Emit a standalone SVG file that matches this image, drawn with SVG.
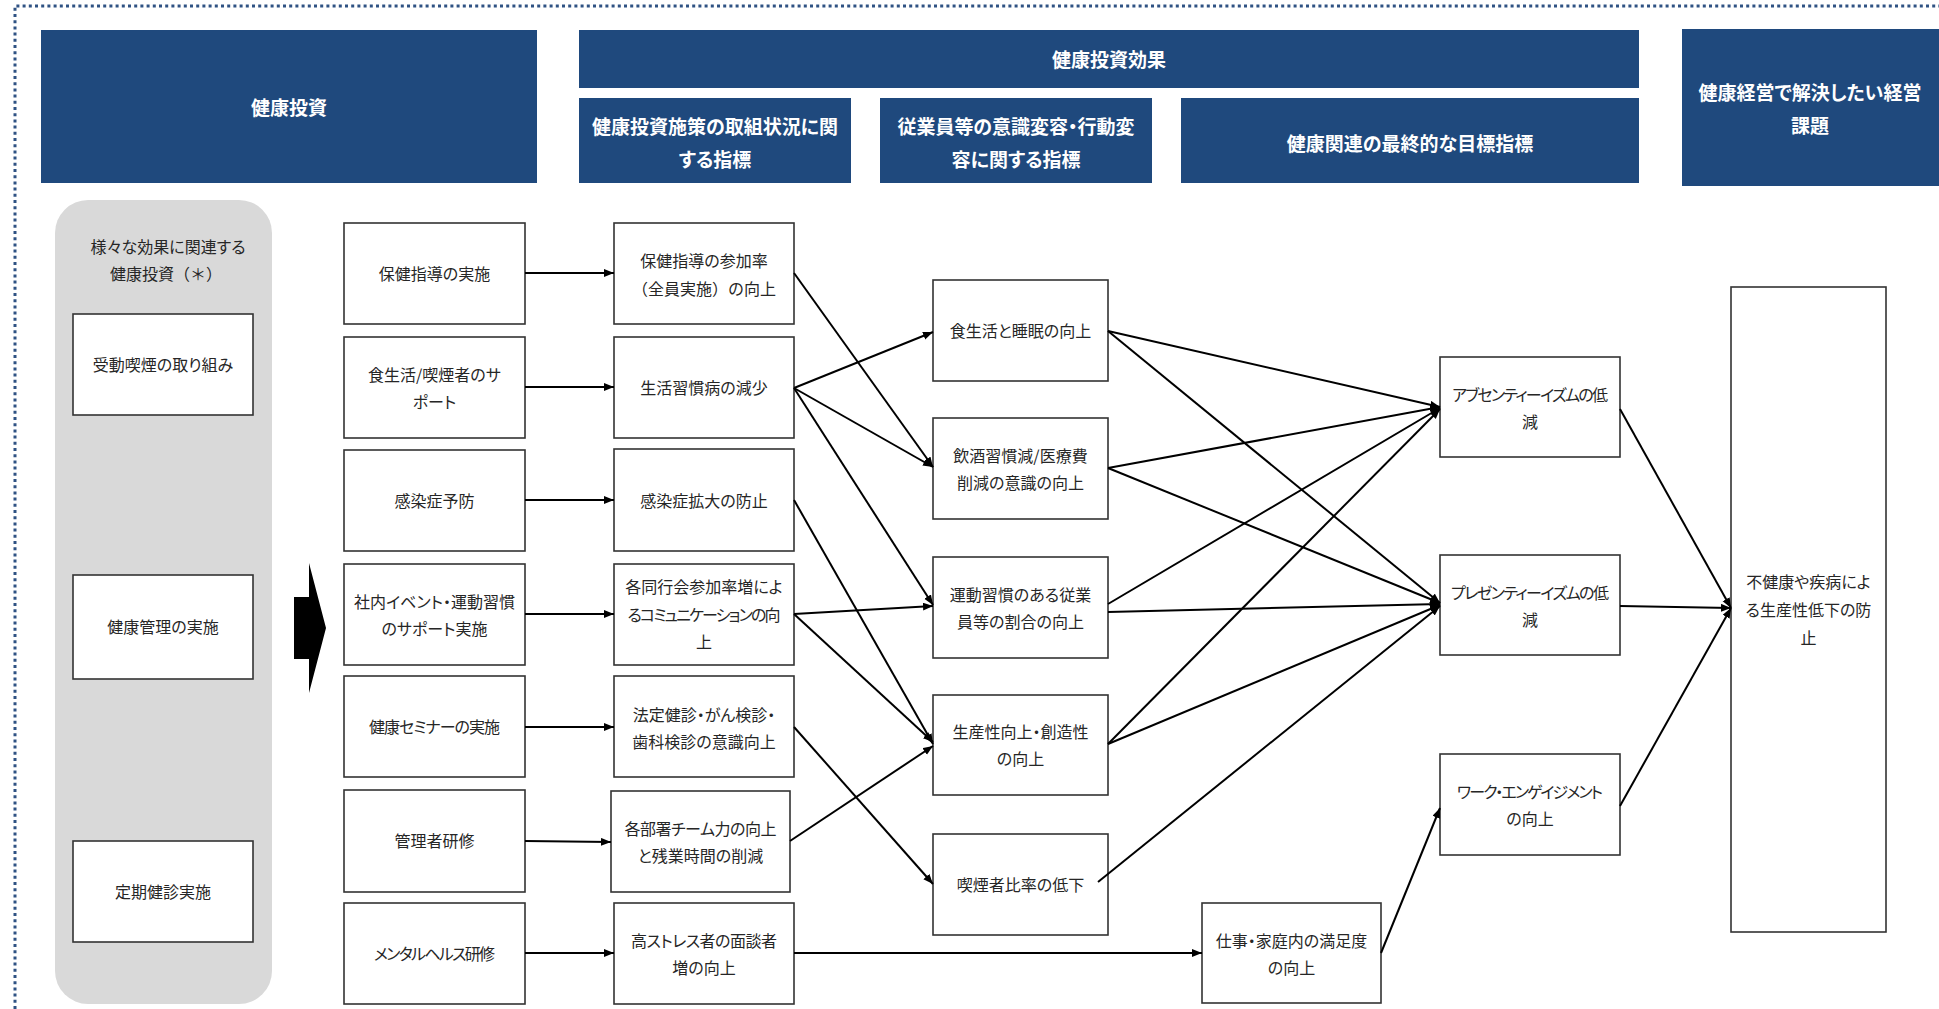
<svg xmlns="http://www.w3.org/2000/svg" width="1939" height="1009" viewBox="0 0 1939 1009">
<style>
text{font-family:"Noto Sans CJK JP","Noto Sans",sans-serif;font-feature-settings:"palt" 1;text-anchor:middle;dominant-baseline:central}
.hdr{fill:#1f497d}
.ht{fill:#ffffff;font-size:19px;font-weight:bold}
.box{fill:#ffffff;stroke:#333333;stroke-width:1.6}
.t{fill:#262626;font-size:16px}
.fw{font-feature-settings:"palt" 0}
.cn line{stroke:#000000;stroke-width:2;fill:none;marker-end:url(#ah)}
</style>
<defs>
<marker id="ah" markerUnits="userSpaceOnUse" markerWidth="11" markerHeight="9" refX="10" refY="4" orient="auto">
<path d="M0,0 L10,4 L0,8 z" fill="#000000"/>
</marker>
</defs>
<rect width="1939" height="1009" fill="#ffffff"/>
<path d="M15,1009 L15,6 L1939,6" fill="none" stroke="#2f5283" stroke-width="3" stroke-dasharray="3 3.2"/>

<g id="h-invest"><rect class="hdr" x="41" y="30" width="496" height="153"/><text class="ht" x="289" y="106.5">健康投資</text></g>
<g id="h-effect"><rect class="hdr" x="579" y="30" width="1060" height="58"/><text class="ht" x="1109" y="58.5">健康投資効果</text></g>
<g id="h-measure"><rect class="hdr" x="579" y="98" width="272" height="85"/><text class="ht"><tspan x="715" y="124.5">健康投資施策の取組状況に関</tspan><tspan x="715" y="157.5">する指標</tspan></text></g>
<g id="h-aware"><rect class="hdr" x="880" y="98" width="272" height="85"/><text class="ht"><tspan x="1016" y="124.5">従業員等の意識変容・行動変</tspan><tspan x="1016" y="157.5">容に関する指標</tspan></text></g>
<g id="h-goal"><rect class="hdr" x="1181" y="98" width="458" height="85"/><text class="ht" x="1410" y="142.5">健康関連の最終的な目標指標</text></g>
<g id="h-issue"><rect class="hdr" x="1682" y="29" width="257" height="157"/><text class="ht"><tspan x="1810" y="91">健康経営で解決したい経営</tspan><tspan x="1810" y="124">課題</tspan></text></g>

<g id="panel">
<rect x="55" y="200" width="217" height="804" rx="33" fill="#d9d9d9"/>
<text class="t" x="168" y="245.5">様々な効果に関連する</text>
<text class="t fw" x="166" y="272.5">健康投資（＊）</text>
</g>
<g id="p-smoke"><rect class="box" x="73" y="314" width="180" height="101"/><text class="t" x="163" y="363.5">受動喫煙の取り組み</text></g>
<g id="p-manage"><rect class="box" x="73" y="575" width="180" height="104"/><text class="t" x="163" y="625.5">健康管理の実施</text></g>
<g id="p-check"><rect class="box" x="73" y="841" width="180" height="101"/><text class="t" x="163" y="890.5">定期健診実施</text></g>

<g id="big-arrow"><polygon points="294,597 309,597 309,563 326,628 309,693 309,659 294,659" fill="#000000"/></g>

<g id="a1"><rect class="box" x="344" y="223" width="181" height="101"/><text class="t" x="434.5" y="272.5">保健指導の実施</text></g>
<g id="a2"><rect class="box" x="344" y="337" width="181" height="101"/><text class="t"><tspan x="434.5" y="373.5">食生活/喫煙者のサ</tspan><tspan x="434.5" y="400.5">ポート</tspan></text></g>
<g id="a3"><rect class="box" x="344" y="450" width="181" height="101"/><text class="t" x="434.5" y="499.5">感染症予防</text></g>
<g id="a4"><rect class="box" x="344" y="564" width="181" height="101"/><text class="t"><tspan x="434.5" y="600.5">社内イベント・運動習慣</tspan><tspan x="434.5" y="627.5">のサポート実施</tspan></text></g>
<g id="a5"><rect class="box" x="344" y="676" width="181" height="101"/><text class="t" x="434.5" y="725.5" textLength="131" lengthAdjust="spacing">健康セミナーの実施</text></g>
<g id="a6"><rect class="box" x="344" y="790" width="181" height="102"/><text class="t" x="434.5" y="839.5">管理者研修</text></g>
<g id="a7"><rect class="box" x="344" y="903" width="181" height="101"/><text class="t" x="434.5" y="952.5" textLength="121" lengthAdjust="spacing">メンタルヘルス研修</text></g>

<g id="b1"><rect class="box" x="614" y="223" width="180" height="101"/><text class="t" x="704" y="259.5">保健指導の参加率</text><text class="t fw" x="704" y="287.5">（全員実施）の向上</text></g>
<g id="b2"><rect class="box" x="614" y="337" width="180" height="101"/><text class="t" x="704" y="386.5">生活習慣病の減少</text></g>
<g id="b3"><rect class="box" x="614" y="449" width="180" height="102"/><text class="t" x="704" y="499.5">感染症拡大の防止</text></g>
<g id="b4"><rect class="box" x="614" y="564" width="180" height="101"/><text class="t" x="704" y="585.5">各同行会参加率増によ</text><text class="t" x="704" y="613.5" textLength="153" lengthAdjust="spacing">るコミュニケーションの向</text><text class="t" x="704" y="640.5">上</text></g>
<g id="b5"><rect class="box" x="614" y="676" width="180" height="101"/><text class="t"><tspan x="704" y="713.5">法定健診・がん検診・</tspan><tspan x="704" y="740.5">歯科検診の意識向上</tspan></text></g>
<g id="b6"><rect class="box" x="611" y="791" width="179" height="101"/><text class="t" x="700.5" y="827.5" textLength="152" lengthAdjust="spacing">各部署チーム力の向上</text><text class="t" x="700.5" y="854.5">と残業時間の削減</text></g>
<g id="b7"><rect class="box" x="614" y="903" width="180" height="101"/><text class="t" x="704" y="939.5" textLength="146" lengthAdjust="spacing">高ストレス者の面談者</text><text class="t" x="704" y="966.5">増の向上</text></g>

<g id="c1"><rect class="box" x="933" y="280" width="175" height="101"/><text class="t" x="1020.5" y="329.5">食生活と睡眠の向上</text></g>
<g id="c2"><rect class="box" x="933" y="418" width="175" height="101"/><text class="t"><tspan x="1020.5" y="454.5">飲酒習慣減/医療費</tspan><tspan x="1020.5" y="481.5">削減の意識の向上</tspan></text></g>
<g id="c3"><rect class="box" x="933" y="557" width="175" height="101"/><text class="t"><tspan x="1020.5" y="593.5">運動習慣のある従業</tspan><tspan x="1020.5" y="620.5">員等の割合の向上</tspan></text></g>
<g id="c4"><rect class="box" x="933" y="695" width="175" height="100"/><text class="t"><tspan x="1020.5" y="730.5">生産性向上・創造性</tspan><tspan x="1020.5" y="757.5">の向上</tspan></text></g>
<g id="c5"><rect class="box" x="933" y="834" width="175" height="101"/><text class="t" x="1020.5" y="883.5">喫煙者比率の低下</text></g>
<g id="c6"><rect class="box" x="1202" y="903" width="179" height="100"/><text class="t"><tspan x="1291.5" y="939.5">仕事・家庭内の満足度</tspan><tspan x="1291.5" y="966.5">の向上</tspan></text></g>

<g id="d1"><rect class="box" x="1440" y="357" width="180" height="100"/><text class="t" x="1530" y="393.5" textLength="156" lengthAdjust="spacing">アブセンティーイズムの低</text><text class="t" x="1530" y="420.5">減</text></g>
<g id="d2"><rect class="box" x="1440" y="555" width="180" height="100"/><text class="t" x="1530" y="591.5" textLength="158" lengthAdjust="spacing">プレゼンティーイズムの低</text><text class="t" x="1530" y="618.5">減</text></g>
<g id="d3"><rect class="box" x="1440" y="754" width="180" height="101"/><text class="t" x="1530" y="790.5" textLength="146" lengthAdjust="spacing">ワーク・エンゲイジメント</text><text class="t" x="1530" y="817.5">の向上</text></g>

<g id="e1"><rect class="box" x="1731" y="287" width="155" height="645"/><text class="t"><tspan x="1808.5" y="581">不健康や疾病によ</tspan><tspan x="1808.5" y="609">る生産性低下の防</tspan><tspan x="1808.5" y="637">止</tspan></text></g>

<g id="connectors" class="cn">
<line x1="525" y1="273" x2="614" y2="273"/>
<line x1="525" y1="387" x2="614" y2="387"/>
<line x1="525" y1="500" x2="614" y2="500"/>
<line x1="525" y1="614" x2="614" y2="614"/>
<line x1="525" y1="727" x2="614" y2="727"/>
<line x1="525" y1="841" x2="611" y2="842"/>
<line x1="525" y1="953" x2="614" y2="953"/>
<line x1="794" y1="273" x2="933" y2="467"/>
<line x1="794" y1="388" x2="933" y2="332"/>
<line x1="794" y1="388" x2="933" y2="467"/>
<line x1="794" y1="388" x2="933" y2="605"/>
<line x1="794" y1="500" x2="933" y2="744"/>
<line x1="794" y1="614" x2="933" y2="606"/>
<line x1="794" y1="614" x2="933" y2="742"/>
<line x1="794" y1="727" x2="933" y2="884"/>
<line x1="790" y1="841" x2="933" y2="746"/>
<line x1="794" y1="953" x2="1202" y2="953"/>
<line x1="1108" y1="331" x2="1440" y2="407"/>
<line x1="1108" y1="331" x2="1440" y2="603"/>
<line x1="1108" y1="468" x2="1440" y2="407"/>
<line x1="1108" y1="468" x2="1440" y2="603"/>
<line x1="1108" y1="604" x2="1440" y2="408"/>
<line x1="1108" y1="612" x2="1440" y2="604"/>
<line x1="1108" y1="744" x2="1440" y2="409"/>
<line x1="1108" y1="744" x2="1440" y2="605"/>
<line x1="1098" y1="882" x2="1440" y2="606"/>
<line x1="1381" y1="953" x2="1440" y2="808"/>
<line x1="1620" y1="409" x2="1731" y2="608"/>
<line x1="1620" y1="606" x2="1731" y2="608"/>
<line x1="1620" y1="806" x2="1731" y2="608"/>
</g>
</svg>
